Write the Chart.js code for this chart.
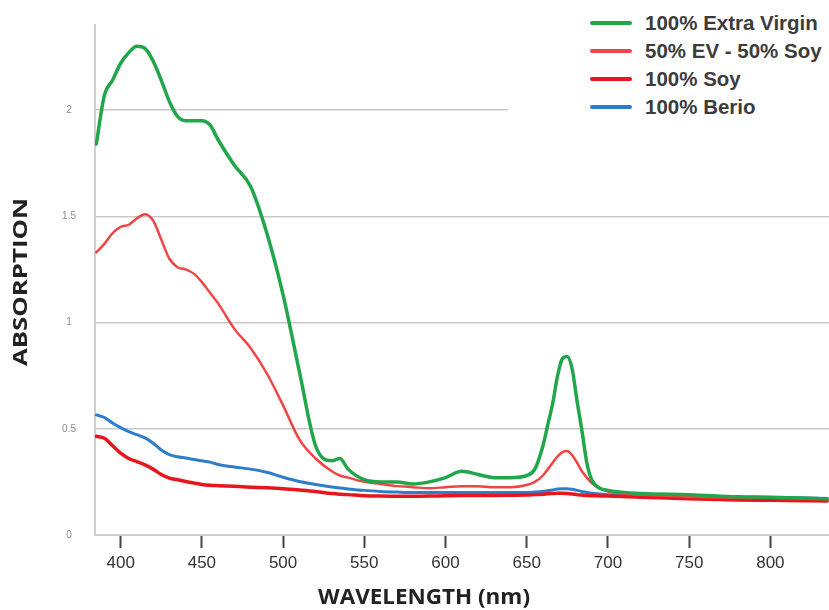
<!DOCTYPE html>
<html>
<head>
<meta charset="utf-8">
<script src="https://cdn.jsdelivr.net/npm/chart.js@4/dist/chart.umd.min.js"></script>
<style>
  html, body { margin: 0; padding: 0; background: #ffffff; }
  #wrap { position: relative; width: 829px; height: 610px; overflow: hidden; }
  #legend { position: absolute; left: 508px; top: 0; width: 321px; height: 121px; background: #ffffff; }
  .lg-line { position: absolute; left: 82px; width: 42px; height: 4px; border-radius: 2px; }
  .lg-text { position: absolute; left: 137px; font: bold 20.5px "Liberation Sans", Arial, sans-serif; color: #3c3c3c; white-space: nowrap; line-height: 24px; }
</style>
</head>
<body>
<div id="wrap">
  <canvas id="c" width="829" height="610"></canvas>
  <div id="legend"></div>
</div>
<script>
// ---- data ----
const wavelengths = [385,390,395,400,405,410,415,420,425,430,435,440,445,450,455,460,470,480,490,500,510,520,530,535,540,550,560,570,580,590,600,610,620,630,640,650,655,660,663,666,669,672,675,678,681,684,687,690,695,700,720,750,780,800,835];

const extraVirgin = [1.84,2.07,2.14,2.22,2.27,2.30,2.29,2.23,2.14,2.04,1.97,1.95,1.95,1.95,1.93,1.86,1.74,1.64,1.42,1.13,0.77,0.42,0.35,0.36,0.31,0.26,0.25,0.25,0.24,0.25,0.27,0.30,0.285,0.27,0.27,0.28,0.31,0.42,0.52,0.62,0.75,0.83,0.84,0.78,0.63,0.49,0.34,0.26,0.22,0.21,0.195,0.19,0.18,0.178,0.17];

const evSoyMix = [1.33,1.37,1.42,1.45,1.46,1.49,1.51,1.48,1.39,1.30,1.26,1.25,1.23,1.19,1.14,1.09,0.97,0.88,0.76,0.61,0.45,0.36,0.30,0.28,0.27,0.25,0.24,0.23,0.225,0.22,0.225,0.23,0.23,0.225,0.225,0.235,0.25,0.28,0.31,0.34,0.37,0.39,0.395,0.375,0.34,0.30,0.27,0.245,0.22,0.205,0.19,0.18,0.176,0.175,0.17];

const soy = [0.465,0.455,0.42,0.385,0.36,0.345,0.33,0.31,0.285,0.268,0.26,0.252,0.245,0.238,0.234,0.232,0.229,0.225,0.222,0.218,0.212,0.205,0.195,0.192,0.19,0.185,0.183,0.182,0.182,0.183,0.185,0.186,0.186,0.186,0.187,0.188,0.19,0.192,0.194,0.195,0.196,0.196,0.195,0.193,0.19,0.188,0.186,0.185,0.184,0.183,0.178,0.17,0.165,0.163,0.16];

const berio = [0.565,0.553,0.527,0.505,0.486,0.472,0.457,0.432,0.40,0.378,0.368,0.362,0.355,0.349,0.343,0.332,0.32,0.31,0.295,0.272,0.252,0.238,0.226,0.221,0.217,0.21,0.205,0.202,0.2,0.2,0.2,0.2,0.2,0.2,0.2,0.2,0.202,0.205,0.208,0.212,0.216,0.218,0.218,0.215,0.21,0.205,0.2,0.196,0.193,0.19,0.186,0.182,0.178,0.177,0.172];

const seriesNames = ['100% Extra Virgin', '50% EV - 50% Soy', '100% Soy', '100% Berio'];
const seriesValues = [extraVirgin, evSoyMix, soy, berio];
const seriesColors = ['#22a64b', '#f04545', '#e8161c', '#2e7dcc'];
const seriesWidths = [3.5, 2.5, 3.5, 3];

const xTickValues = [400, 450, 500, 550, 600, 650, 700, 750, 800];
const yTickValues = [0, 0.5, 1, 1.5, 2];
const xTitle = 'WAVELENGTH (nm)';
const yTitle = 'ABSORPTION';

// ---- chart ----
const datasets = seriesNames.map((name, s) => ({
  label: name,
  data: wavelengths.map((w, i) => ({ x: w, y: seriesValues[s][i] })),
  borderColor: seriesColors[s],
  backgroundColor: seriesColors[s],
  borderWidth: seriesWidths[s],
  pointRadius: 0,
  cubicInterpolationMode: 'monotone',
  borderJoinStyle: 'round',
  borderCapStyle: 'round',
  fill: false
}));

const titlePlugin = {
  id: 'axisTitles',
  afterDraw(chart) {
    const ctx = chart.ctx;
    ctx.save();
    ctx.fillStyle = '#222222';
    ctx.textAlign = 'center';
    ctx.textBaseline = 'middle';
    ctx.font = 'bold 21px "Open Sans"';
    let w = ctx.measureText(xTitle).width;
    ctx.translate(424, 598);
    ctx.scale(212 / w, 1);
    ctx.fillText(xTitle, 0, 0);
    ctx.restore();

    ctx.save();
    ctx.fillStyle = '#222222';
    ctx.textAlign = 'center';
    ctx.textBaseline = 'middle';
    ctx.font = 'bold 19px "Open Sans"';
    w = ctx.measureText(yTitle).width;
    ctx.translate(22, 282);
    ctx.rotate(-Math.PI / 2);
    ctx.scale(168 / w, 1);
    ctx.fillText(yTitle, 0, 0);
    ctx.restore();
  }
};

new Chart(document.getElementById('c'), {
  type: 'line',
  data: { datasets },
  plugins: [titlePlugin],
  options: {
    responsive: false,
    animation: false,
    devicePixelRatio: 1,
    layout: { padding: { top: 22, left: 0, right: 0, bottom: 0 } },
    plugins: { legend: { display: false }, tooltip: { enabled: false } },
    scales: {
      x: {
        type: 'linear',
        min: 384.2,
        max: 836.1,
        afterBuildTicks: (a) => { a.ticks = xTickValues.map(v => ({ value: v })); },
        afterFit: (s) => { s.height = 75; },
        grid: { drawOnChartArea: false, drawTicks: true, tickLength: 13, tickColor: '#444444', tickWidth: 2 },
        border: { display: true, color: '#cfcfcf', width: 2 },
        ticks: {
          autoSkip: false, maxRotation: 0, padding: 5,
          color: '#333333',
          font: { family: '"Liberation Sans", Arial, sans-serif', size: 17 },
          callback: (v) => String(v)
        }
      },
      y: {
        min: 0,
        max: 2.4,
        afterBuildTicks: (a) => { a.ticks = yTickValues.map(v => ({ value: v })); },
        afterFit: (s) => { s.width = 95; },
        grid: { color: '#c8c8c8', lineWidth: 1.5, drawTicks: false },
        border: { display: true, color: '#cfcfcf', width: 2 },
        ticks: {
          crossAlign: 'center', padding: 19,
          color: '#8c8c8c',
          font: { family: '"Liberation Sans", Arial, sans-serif', size: 10 },
          callback: (v) => String(v)
        }
      }
    }
  }
});

// ---- HTML legend built from the series arrays ----
const legend = document.getElementById('legend');
seriesNames.forEach((name, i) => {
  const cy = 23 + i * 28;
  const line = document.createElement('div');
  line.className = 'lg-line';
  line.style.top = (cy - 2) + 'px';
  line.style.background = seriesColors[i];
  const txt = document.createElement('div');
  txt.className = 'lg-text';
  txt.style.top = (cy - 12) + 'px';
  txt.textContent = name;
  legend.appendChild(line);
  legend.appendChild(txt);
});
</script>
</body>
</html>
